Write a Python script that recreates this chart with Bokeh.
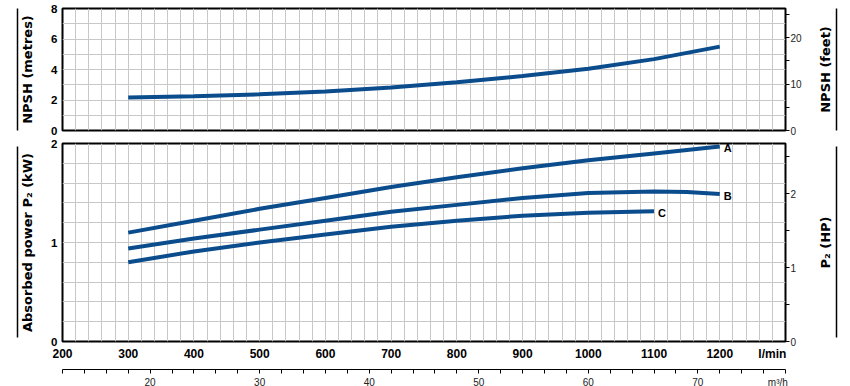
import math
from bokeh.plotting import figure
from bokeh.models import Range1d, LinearAxis, FixedTicker, SingleIntervalTicker, ColumnDataSource
from bokeh.layouts import column, row
from bokeh.embed import file_html
from bokeh.resources import INLINE
from bokeh.core.properties import value

# ---------------- data ----------------
flow = [300, 400, 500, 600, 700, 800, 900, 1000, 1100, 1200]
npsh_m = [2.17, 2.24, 2.37, 2.55, 2.82, 3.17, 3.57, 4.05, 4.68, 5.50]

flow_a = [300, 400, 500, 600, 700, 800, 900, 1000, 1100, 1200]
power_a = [1.10, 1.22, 1.34, 1.45, 1.56, 1.66, 1.75, 1.83, 1.90, 1.97]

flow_b = [300, 400, 500, 600, 700, 800, 900, 1000, 1100, 1150, 1200]
power_b = [0.94, 1.04, 1.13, 1.22, 1.31, 1.38, 1.45, 1.50, 1.515, 1.51, 1.49]

flow_c = [300, 400, 500, 600, 700, 800, 900, 1000, 1100]
power_c = [0.80, 0.91, 1.00, 1.08, 1.16, 1.22, 1.27, 1.30, 1.315]

curve_names = ["A", "B", "C"]

x_ticks = [200, 300, 400, 500, 600, 700, 800, 900, 1000, 1100, 1200]
x_unit_label = "l/min"
m3h_ticks = [20, 30, 40, 50, 60, 70]
m3h_unit_label = "m³/h"
npsh_m_ticks = [0, 2, 4, 6, 8]
npsh_ft_ticks = [0, 10, 20]
kw_ticks = [0, 1, 2]
hp_ticks = [0, 1, 2]

titles_left = ["NPSH (metres)", "Absorbed power P₂ (kW)"]
titles_right = ["NPSH (feet)", "P₂ (HP)"]

M_TO_FT = 3.28084
KW_TO_HP = 1.34102
LPM_TO_M3H = 0.06

# ---------------- style ----------------
FONT = "Liberation Sans"
TITLE_FONT = "DejaVu Sans"
TITLE_SIZE = "13px"
BLUE = "#0b4c8c"
GRID = "#c8c8c8"
FRAME_W = 723
LEFT = 62
RIGHT = 16
X_MIN, X_MAX = 200, 1300
X_UNIT_POS = 1280
M3H_UNIT_POS = 77.3

TOP_FH, BOT_FH = 122, 198
TOP_MT, TOP_MB, BOT_MT = 8, 7, 6

xr = Range1d(X_MIN, X_MAX)


def style_common(p):
    p.background_fill_color = "white"
    p.border_fill_color = "white"
    p.outline_line_color = "black"
    p.outline_line_width = 2
    for g in p.xgrid:
        g.ticker = SingleIntervalTicker(interval=20)
        g.grid_line_color = GRID
        g.grid_line_width = 1


def no_ticks(ax):
    ax.major_tick_out = 0
    ax.major_tick_in = 0
    ax.minor_tick_out = 0
    ax.minor_tick_in = 0


def style_left(ax, title, ticks):
    ax.ticker = FixedTicker(ticks=ticks)
    no_ticks(ax)
    ax.axis_line_color = None
    ax.major_label_standoff = 5
    ax.major_label_text_font = FONT
    ax.major_label_text_font_style = "bold"
    ax.major_label_text_font_size = "11.5px"
    ax.major_label_text_color = "black"
    ax.axis_label = title
    ax.axis_label_text_font = TITLE_FONT
    ax.axis_label_text_font_style = "bold"
    ax.axis_label_text_font_size = TITLE_SIZE
    ax.axis_label_text_color = "black"
    ax.axis_label_standoff = 13


def add_right(p, rname, rmax, ticks):
    p.extra_y_ranges = {rname: Range1d(0, rmax)}
    half = (ticks[1] - ticks[0]) / 2
    ax = LinearAxis(y_range_name=rname,
                    ticker=FixedTicker(ticks=ticks, minor_ticks=[t + half for t in ticks]))
    ax.axis_line_color = None
    ax.major_tick_out = 4
    ax.major_tick_in = 0
    ax.minor_tick_out = 4
    ax.minor_tick_in = 0
    ax.major_tick_line_color = "black"
    ax.minor_tick_line_color = "black"
    ax.major_label_standoff = 1
    ax.major_label_text_font = FONT
    ax.major_label_text_font_size = "10px"
    ax.major_label_text_color = "#222222"
    p.add_layout(ax, "right")


def add_bar_line(p, side, bounds):
    ax = LinearAxis(ticker=FixedTicker(ticks=[]), bounds=bounds)
    ax.axis_line_color = "black"
    ax.axis_line_width = 1.5
    no_ticks(ax)
    ax.major_label_text_font_size = "0px"
    ax.major_label_standoff = 0
    p.add_layout(ax, side)


def side_title(yr, fh, mt, mb, title, bounds):
    q = figure(frame_width=4, frame_height=fh, x_range=Range1d(0, 1), y_range=yr,
               output_backend="svg", toolbar_location=None, x_axis_location=None,
               min_border_left=28, min_border_right=5, min_border_top=mt, min_border_bottom=mb)
    q.outline_line_color = None
    q.background_fill_color = "white"
    q.border_fill_color = "white"
    q.grid.grid_line_color = None
    ax = q.yaxis[0]
    ax.ticker = FixedTicker(ticks=[])
    no_ticks(ax)
    ax.axis_line_color = None
    ax.major_label_text_font_size = "0px"
    ax.major_label_standoff = 0
    ax.axis_label = title
    ax.axis_label_text_font = TITLE_FONT
    ax.axis_label_text_font_style = "bold"
    ax.axis_label_text_font_size = TITLE_SIZE
    ax.axis_label_text_color = "black"
    ax.axis_label_standoff = 0
    add_bar_line(q, "right", bounds)
    return q


# ---------------- top: NPSH ----------------
yr1 = Range1d(0, 8)
p1 = figure(frame_width=FRAME_W, frame_height=TOP_FH, x_range=xr, y_range=yr1,
            output_backend="svg", toolbar_location=None, x_axis_location=None,
            min_border_left=LEFT, min_border_right=RIGHT, min_border_top=TOP_MT, min_border_bottom=TOP_MB)
style_common(p1)
p1.ygrid.ticker = SingleIntervalTicker(interval=1)
p1.ygrid.grid_line_color = GRID
style_left(p1.yaxis[0], titles_left[0], npsh_m_ticks)
add_bar_line(p1, "left", (0, 8))
add_right(p1, "ft", 8 * M_TO_FT, npsh_ft_ticks)
p1.line(flow, npsh_m, line_color=BLUE, line_width=4)

# ---------------- bottom: power ----------------
yr2 = Range1d(0, 2)
p2 = figure(frame_width=FRAME_W, frame_height=BOT_FH, x_range=xr, y_range=yr2,
            output_backend="svg", toolbar_location=None,
            min_border_left=LEFT, min_border_right=RIGHT, min_border_top=BOT_MT, min_border_bottom=0)
style_common(p2)
p2.ygrid.ticker = SingleIntervalTicker(interval=0.2)
p2.ygrid.grid_line_color = GRID
style_left(p2.yaxis[0], titles_left[1], kw_ticks)
add_bar_line(p2, "left", (0.04, 1.97))
add_right(p2, "hp", 2 * KW_TO_HP, hp_ticks)

xa = p2.xaxis[0]
xa.ticker = FixedTicker(ticks=x_ticks + [X_UNIT_POS])
xa.major_label_overrides = {X_UNIT_POS: x_unit_label}
no_ticks(xa)
xa.axis_line_color = None
xa.major_label_standoff = 5
xa.major_label_text_font = FONT
xa.major_label_text_font_style = "bold"
xa.major_label_text_font_size = "12px"
xa.major_label_text_color = "black"
xa.axis_label = " "
xa.axis_label_text_font_size = "3px"
xa.axis_label_standoff = 0

p2.extra_x_ranges = {"m3h": Range1d(X_MIN * LPM_TO_M3H, X_MAX * LPM_TO_M3H)}
m3_start = X_MIN * LPM_TO_M3H
m3_end = X_MAX * LPM_TO_M3H
m3_marks = [m3_start + 2 * i for i in range(int((m3_end - m3_start) / 2) + 1)]
xb = LinearAxis(x_range_name="m3h",
                ticker=FixedTicker(ticks=m3h_ticks + [M3H_UNIT_POS], minor_ticks=m3_marks))
xb.major_label_overrides = {M3H_UNIT_POS: m3h_unit_label}
xb.axis_line_color = "black"
xb.axis_line_width = 1
xb.major_tick_out = 0
xb.major_tick_in = 0
xb.minor_tick_out = 4
xb.minor_tick_in = 0
xb.minor_tick_line_color = "black"
xb.major_label_standoff = 3
xb.major_label_text_font = FONT
xb.major_label_text_font_size = "10px"
xb.major_label_text_color = "#222222"
p2.add_layout(xb, "below")

p2.line(flow_a, power_a, line_color=BLUE, line_width=4)
p2.line(flow_b, power_b, line_color=BLUE, line_width=4)
p2.line(flow_c, power_c, line_color=BLUE, line_width=4)

ends = ColumnDataSource(dict(x=[flow_a[-1], flow_b[-1], flow_c[-1]],
                             y=[power_a[-1], power_b[-1], power_c[-1]],
                             t=curve_names))
p2.text(x="x", y="y", text="t", source=ends, x_offset=4, y_offset=2,
        text_font=value(FONT), text_font_style="bold", text_font_size="11px",
        text_baseline="middle", text_align="left", text_color="black")

# ---------------- right-hand titles ----------------
q1 = side_title(yr1, TOP_FH, TOP_MT, TOP_MB, titles_right[0], (0, 8))
q2 = side_title(yr2, BOT_FH, BOT_MT, 0, titles_right[1], (0.04, 1.97))

layout = row(column(p1, p2), column(q1, q2))
open("out.html", "w").write(file_html(layout, INLINE))
